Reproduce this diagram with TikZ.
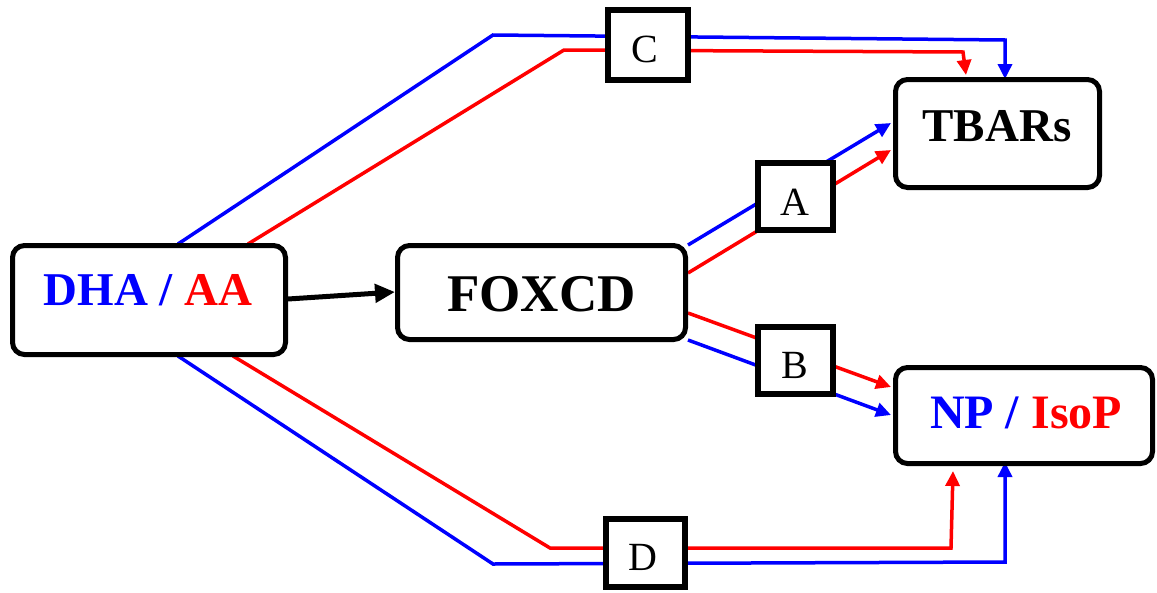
\documentclass[tikz,border=0pt]{standalone}
\usepackage{fontspec}
\setmainfont{Liberation Serif}
\usetikzlibrary{arrows.meta}
\definecolor{cblue}{RGB}{0,0,255}
\definecolor{cred}{RGB}{255,0,0}
\begin{document}
\begin{tikzpicture}[x=1pt,y=-1pt,
  bigbox/.style={draw=black,line width=5pt,rounded corners=12pt,fill=white,inner sep=0pt},
  smallbox/.style={draw=black,line width=6pt,fill=white,inner sep=0pt},
  bigtext/.style={anchor=base,inner sep=0pt,font=\bfseries},
  smalltext/.style={anchor=base,inner sep=0pt,font=\fontsize{40}{40}\selectfont},
  bline/.style={draw=cblue,line width=3.5pt},
  rline/.style={draw=cred,line width=3.5pt},
  barrow/.style={bline,-{Triangle[length=15pt,width=14pt]}},
  rarrow/.style={rline,-{Triangle[length=15pt,width=14pt]}},
  karrow/.style={draw=black,line width=5pt,-{Triangle[length=20pt,width=18pt]}}]
\useasboundingbox (0,0) rectangle (1157,592);

% coordinates on the box edges
\coordinate (dhaTb) at (178,244);
\coordinate (dhaTr) at (248,244);
\coordinate (dhaBb) at (178,356);
\coordinate (dhaBr) at (233,356);
\coordinate (dhaE) at (288,299);
\coordinate (foxW) at (395,292);
\coordinate (foxAb) at (688,245);
\coordinate (foxAr) at (688,273);
\coordinate (foxBr) at (688,313);
\coordinate (foxBb) at (688,340);
\coordinate (cbend) at (493,35);
\coordinate (crbend) at (564,50);
\coordinate (cbcorner) at (1005,40);
\coordinate (crcorner) at (963,52);
\coordinate (tbTb) at (1005,79);
\coordinate (tbTr) at (966,75);
\coordinate (tbWb) at (891,123);
\coordinate (tbWr) at (891,150);
\coordinate (npWr) at (891,387);
\coordinate (npWb) at (891,415);
\coordinate (dbend) at (493,564);
\coordinate (drbend) at (550,548);
\coordinate (dbcorner) at (1005,562);
\coordinate (drcorner) at (951,548);
\coordinate (npBb) at (1005,462);
\coordinate (npBr) at (953,471);

% connectors (drawn below the boxes)
\path[barrow] (dhaTb) -- (cbend) -- (cbcorner) -- (tbTb);
\path[rarrow] (dhaTr) -- (crbend) -- (crcorner) -- (tbTr);
\path[barrow] (dhaBb) -- (dbend) -- (dbcorner) -- (npBb);
\path[rarrow] (dhaBr) -- (drbend) -- (drcorner) -- (npBr);
\path[barrow] (foxAb) -- (tbWb);
\path[rarrow] (foxAr) -- (tbWr);
\path[rarrow] (foxBr) -- (npWr);
\path[barrow] (foxBb) -- (npWb);
\path[karrow] (dhaE) -- (foxW);

% big boxes
\node[bigbox,minimum width=273pt,minimum height=109pt] (dha) at (149,300) {};
\node[bigbox,minimum width=288pt,minimum height=94pt] (fox) at (541.5,292.5) {};
\node[bigbox,minimum width=204pt,minimum height=108pt] (tbars) at (997.5,133.5) {};
\node[bigbox,minimum width=257pt,minimum height=96pt] (np) at (1024,415.5) {};

% small boxes
\node[smallbox,minimum width=80pt,minimum height=70pt] (C) at (648,45) {};
\node[smallbox,minimum width=75pt,minimum height=67pt] (A) at (795.5,196.5) {};
\node[smallbox,minimum width=75pt,minimum height=67pt] (B) at (795.5,360.5) {};
\node[smallbox,minimum width=79pt,minimum height=68pt] (D) at (645.5,553) {};

% texts
\node[bigtext,font=\bfseries\fontsize{47}{47}\selectfont] (dhaT) at (148,305) {\textcolor{cblue}{DHA /} \textcolor{cred}{AA}};
\node[bigtext,font=\bfseries\fontsize{53}{53}\selectfont] (foxT) at (541.5,311) {FOXCD};
\node[bigtext,font=\bfseries\fontsize{47}{47}\selectfont] (tbT) at (997,141) {TBARs};
\node[bigtext,font=\bfseries\fontsize{48}{48}\selectfont] (npT) at (1026,428) {\textcolor{cblue}{NP /} \textcolor{cred}{IsoP}};
\node[smalltext] (CT) at (645,62) {C};
\node[smalltext] (AT) at (795,215) {A};
\node[smalltext] (BT) at (795,378) {B};
\node[smalltext] (DT) at (643,570) {D};
\end{tikzpicture}
\end{document}
